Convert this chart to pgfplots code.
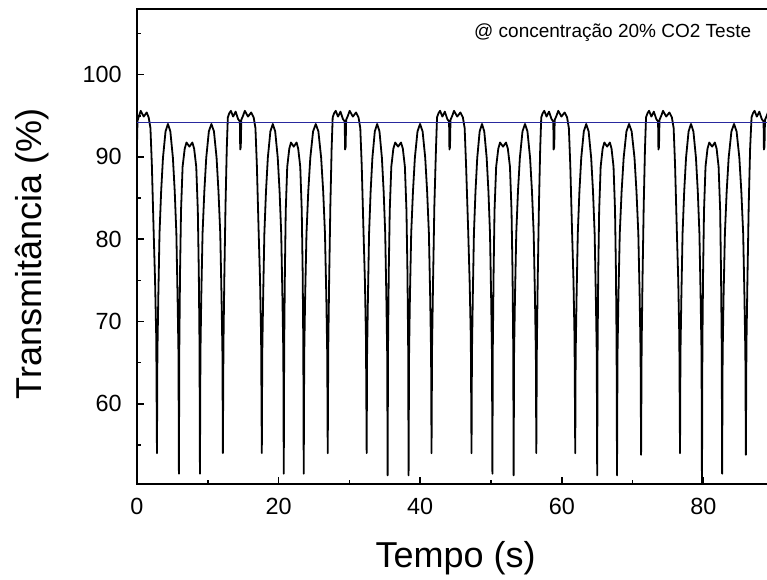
\documentclass[border=0pt]{standalone}
\usepackage{fontspec}
\setmainfont{Liberation Sans}
\usepackage{pgfplots}
\pgfplotsset{compat=1.18}
\definecolor{refblue}{rgb}{0.16,0.16,0.62}

\begin{document}
\begin{tikzpicture}
\useasboundingbox (-68.5bp,-48bp) rectangle (315bp,242bp);
\begin{axis}[
    at={(0,0)}, anchor=south west,
    scale only axis,
    width=318.6bp, height=237.6bp,
    xmin=0, xmax=90, ymin=50.25, ymax=108,
    xtick={0,20,40,60,80}, minor xtick={10,30,50,70,90},
    ytick={60,70,80,90,100}, minor ytick={55,65,75,85,95,105},
    xtick pos=left, ytick pos=left,
    tick align=inside,
    major tick length=3.5bp, minor tick length=2.2bp,
    every tick/.style={black, line width=0.8bp},
    axis line style={line width=1bp},
    /pgf/number format/assume math mode=true,
    tick label style={font=\fontsize{11.7bp}{14bp}\selectfont, inner sep=0pt},
    xticklabel style={yshift=-6.8bp},
    yticklabel style={xshift=-7.5bp},
    xlabel={Tempo (s)},
    ylabel={Transmitância (\%)},
    every axis x label/.style={at={(axis description cs:0.5,-0.1198)}, anchor=north,
      inner sep=0pt, font=\fontsize{18bp}{21bp}\selectfont},
    every axis y label/.style={at={(axis description cs:-0.1915,0.4842)}, anchor=north,
      rotate=90, inner sep=0pt, font=\fontsize{18bp}{21bp}\selectfont},
  ]
  % sinal medido
  \addplot[black, line width=0.9bp, line join=round] coordinates {
    (0.00,91.5) (0.07,94.4) (0.30,95.0) (0.52,95.6) (0.95,94.9) (1.37,95.4) (1.65,94.8) (1.90,93.5) (2.10,89.0) (2.35,81.0) (2.55,75.0) (2.72,68.0)
    (2.82,54.0)
    (2.88,66) (3.01,73) (3.18,80.7) (3.41,85.8) (3.67,89.9) (4.03,93.1) (4.37,94.0) (4.71,93.1) (5.07,89.9) (5.33,85.8) (5.56,80.7) (5.73,73) (5.86,66)
    (5.92,51.5)
    (5.98,67) (6.08,76) (6.22,83.5) (6.44,88.8) (6.74,91.0) (6.99,91.75) (7.41,91.25) (7.82,91.75) (8.07,91.0) (8.37,88.8) (8.59,83.5) (8.73,76) (8.83,67)
    (8.89,51.5)
    (8.96,66) (9.08,73) (9.26,80.7) (9.51,85.8) (9.78,89.9) (10.15,93.1) (10.51,94.0) (10.87,93.1) (11.24,89.9) (11.51,85.8) (11.76,80.7) (11.94,73) (12.07,66)
    (12.13,54.0)
    (12.21,67) (12.33,75) (12.50,84) (12.68,91) (12.83,94.8) (13.03,95.3) (13.26,95.6) (13.58,94.9) (13.93,95.5) (14.28,94.6) (14.53,94.3) (14.58,90.9) (14.66,91.2) (14.73,94.5) (14.98,95.0) (15.23,95.6) (15.68,94.9) (16.13,95.4) (16.48,94.8) (16.73,93.5) (16.93,89) (17.18,81) (17.38,75) (17.53,68)
    (17.63,54.0)
    (17.69,66) (17.82,73) (17.99,80.7) (18.22,85.8) (18.48,89.9) (18.84,93.1) (19.18,94.0) (19.52,93.1) (19.88,89.9) (20.14,85.8) (20.37,80.7) (20.54,73) (20.67,66)
    (20.73,51.5)
    (20.79,67) (20.89,76) (21.01,83.5) (21.22,88.8) (21.51,91.0) (21.75,91.75) (22.14,91.25) (22.54,91.75) (22.77,91.0) (23.06,88.8) (23.27,83.5) (23.40,76) (23.49,67)
    (23.55,51.5)
    (23.62,66) (23.75,73) (23.94,80.7) (24.19,85.8) (24.48,89.9) (24.87,93.1) (25.25,94.0) (25.62,93.1) (26.01,89.9) (26.30,85.8) (26.55,80.7) (26.74,73) (26.87,66)
    (26.94,54.0)
    (27.02,67) (27.14,75) (27.31,84) (27.49,91) (27.64,94.8) (27.84,95.3) (28.07,95.6) (28.39,94.9) (28.74,95.5) (29.09,94.6) (29.34,94.3) (29.39,90.9) (29.47,91.2) (29.54,94.5) (29.79,95.0) (30.04,95.6) (30.49,94.9) (30.94,95.4) (31.29,94.8) (31.54,93.5) (31.74,89) (31.99,81) (32.19,75) (32.34,68)
    (32.44,54.0)
    (32.50,66) (32.62,73) (32.78,80.7) (33.00,85.8) (33.25,89.9) (33.59,93.1) (33.92,94.0) (34.25,93.1) (34.59,89.9) (34.84,85.8) (35.06,80.7) (35.22,73) (35.34,66)
    (35.40,51.3)
    (35.46,67) (35.56,76) (35.70,83.5) (35.92,88.8) (36.21,91.0) (36.47,91.75) (36.88,91.25) (37.29,91.75) (37.55,91.0) (37.84,88.8) (38.06,83.5) (38.20,76) (38.30,67)
    (38.36,51.3)
    (38.43,66) (38.55,73) (38.73,80.7) (38.98,85.8) (39.25,89.9) (39.62,93.1) (39.98,94.0) (40.34,93.1) (40.71,89.9) (40.98,85.8) (41.23,80.7) (41.41,73) (41.54,66)
    (41.60,54.0)
    (41.68,67) (41.82,75) (42.00,84) (42.23,91) (42.38,94.8) (42.58,95.3) (42.81,95.6) (43.13,94.9) (43.48,95.5) (43.83,94.6) (44.08,94.3) (44.13,90.9) (44.21,91.2) (44.28,94.5) (44.53,95.0) (44.78,95.6) (45.23,94.9) (45.68,95.4) (46.03,94.8) (46.28,93.5) (46.48,89) (46.78,81) (46.98,75) (47.15,68)
    (47.25,54.0)
    (47.31,66) (47.43,73) (47.59,80.7) (47.81,85.8) (48.06,89.9) (48.40,93.1) (48.73,94.0) (49.05,93.1) (49.39,89.9) (49.64,85.8) (49.86,80.7) (50.02,73) (50.14,66)
    (50.20,51.5)
    (50.26,67) (50.37,76) (50.50,83.5) (50.73,88.8) (51.03,91.0) (51.28,91.75) (51.70,91.25) (52.12,91.75) (52.38,91.0) (52.68,88.8) (52.90,83.5) (53.04,76) (53.14,67)
    (53.20,51.3)
    (53.26,66) (53.39,73) (53.57,80.7) (53.81,85.8) (54.08,89.9) (54.45,93.1) (54.80,94.0) (55.15,93.1) (55.52,89.9) (55.79,85.8) (56.03,80.7) (56.21,73) (56.34,66)
    (56.40,54.0)
    (56.48,67) (56.60,75) (56.77,84) (56.95,91) (57.10,94.8) (57.30,95.3) (57.53,95.6) (57.85,94.9) (58.20,95.5) (58.55,94.6) (58.80,94.3) (58.85,90.9) (58.93,91.2) (59.00,94.5) (59.25,95.0) (59.50,95.6) (59.95,94.9) (60.40,95.4) (60.75,94.8) (61.00,93.5) (61.20,89) (61.45,81) (61.65,75) (61.80,68)
    (61.90,54.0)
    (61.96,66) (62.09,73) (62.26,80.7) (62.49,85.8) (62.75,89.9) (63.11,93.1) (63.45,94.0) (63.79,93.1) (64.15,89.9) (64.41,85.8) (64.64,80.7) (64.81,73) (64.94,66)
    (65.00,51.3)
    (65.06,67) (65.15,76) (65.28,83.5) (65.49,88.8) (65.77,91.0) (66.01,91.75) (66.40,91.25) (66.79,91.75) (67.03,91.0) (67.31,88.8) (67.52,83.5) (67.65,76) (67.74,67)
    (67.80,51.3)
    (67.87,66) (68.00,73) (68.19,80.7) (68.45,85.8) (68.74,89.9) (69.13,93.1) (69.50,94.0) (69.87,93.1) (70.27,89.9) (70.55,85.8) (70.81,80.7) (71.00,73) (71.13,66)
    (71.20,53.8)
    (71.28,67) (71.40,75) (71.57,84) (71.75,91) (71.90,94.8) (72.10,95.3) (72.33,95.6) (72.65,94.9) (73.00,95.5) (73.35,94.6) (73.60,94.3) (73.65,90.9) (73.73,91.2) (73.80,94.5) (74.05,95.0) (74.30,95.6) (74.75,94.9) (75.20,95.4) (75.55,94.8) (75.80,93.5) (76.00,89) (76.25,81) (76.45,75) (76.60,68)
    (76.70,54.0)
    (76.76,66) (76.89,73) (77.06,80.7) (77.29,85.8) (77.55,89.9) (77.91,93.1) (78.25,94.0) (78.59,93.1) (78.95,89.9) (79.21,85.8) (79.44,80.7) (79.61,73) (79.74,66)
    (79.80,49.0)
    (79.86,67) (79.96,76) (80.09,83.5) (80.30,88.8) (80.58,91.0) (80.83,91.75) (81.23,91.25) (81.62,91.75) (81.87,91.0) (82.15,88.8) (82.37,83.5) (82.49,76) (82.59,67)
    (82.65,51.5)
    (82.72,66) (82.85,73) (83.04,80.7) (83.29,85.8) (83.57,89.9) (83.96,93.1) (84.33,94.0) (84.69,93.1) (85.08,89.9) (85.36,85.8) (85.62,80.7) (85.80,73) (85.93,66)
    (86.00,53.8)
    (86.08,67) (86.22,75) (86.40,84) (86.60,91) (86.80,94.8) (87.00,95.3) (87.23,95.6) (87.55,94.9) (87.90,95.5) (88.25,94.6) (88.50,94.3) (88.55,90.9) (88.63,91.2) (88.70,94.5) (88.95,95.0) (89.20,95.6) (89.65,94.9)
  };
  % linha de referencia
  \addplot[refblue, line width=0.7bp] coordinates {(0,94.2) (90,94.2)};
  \node[anchor=base east, inner sep=0pt, font=\fontsize{9.5bp}{11bp}\selectfont]
    at (axis cs:86.8,104.55) {@ concentração 20\% CO2 Teste};
\end{axis}
\end{tikzpicture}
\end{document}
